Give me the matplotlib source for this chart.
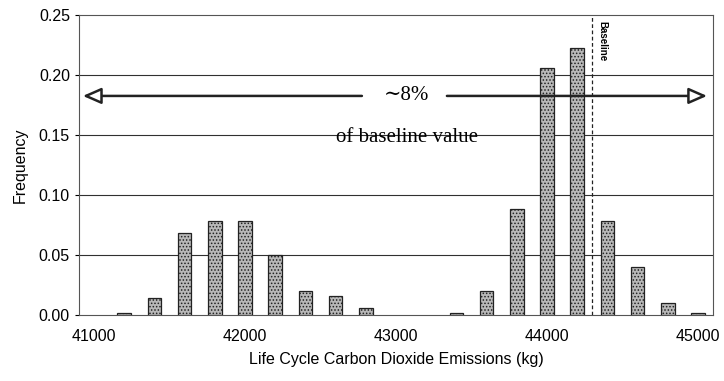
import matplotlib
matplotlib.use("Agg")
import matplotlib.pyplot as plt
import numpy as np

# bin centres (kg) and frequency
bins = [41200, 41400, 41600, 41800, 42000, 42200, 42400, 42600, 42800,
        43400, 43600, 43800, 44000, 44200, 44400, 44600, 44800, 45000]
freq = [0.002, 0.014, 0.068, 0.078, 0.078, 0.050, 0.020, 0.016, 0.006,
        0.002, 0.020, 0.088, 0.206, 0.222, 0.078, 0.040, 0.010, 0.002]
xticks = [41000, 42000, 43000, 44000, 45000]
yticks = [0.00, 0.05, 0.10, 0.15, 0.20, 0.25]
baseline = 44300

plt.rcParams['font.family'] = ['Liberation Sans', 'DejaVu Sans']
plt.rcParams['hatch.color'] = '#5a5a5a'
plt.rcParams['hatch.linewidth'] = 0.7

fig = plt.figure(figsize=(7.24, 3.81), dpi=100)
ax = fig.add_axes([0.109, 0.173, 0.876, 0.788])

ax.bar(bins, freq, width=90, color='#b8b8b8', edgecolor='#222222',
       linewidth=0.9, hatch='.....', zorder=3)

for y in yticks[1:-1]:
    ax.axhline(y, color='#303030', lw=0.8, zorder=1)

ax.axvline(baseline, color='#222222', lw=0.9, ls=(0, (3, 2)), zorder=4)
ax.text(baseline + 35, 0.245, 'Baseline', rotation=270, fontsize=7,
        ha='left', va='top', fontweight='bold')

# double-headed arrow with the label sitting in the gap
arr = dict(arrowstyle='-|>,head_length=0.8,head_width=0.35',
           edgecolor='#222222', facecolor='white', lw=1.8,
           mutation_scale=14, shrinkA=0, shrinkB=0)
ax.annotate('', xy=(40926, 0.1825), xytext=(42774, 0.1825), arrowprops=arr)
ax.annotate('', xy=(45060, 0.1825), xytext=(43337, 0.1825), arrowprops=arr)
serif = ['Liberation Serif', 'DejaVu Serif']
ax.text(43070, 0.1825, '\u223c8%', family=serif, fontsize=15,
        ha='center', va='center')
ax.text(43070, 0.148, 'of baseline value', family=serif,
        fontsize=15, ha='center', va='center')

ax.set_xlim(40900, 45100)
ax.set_ylim(0, 0.25)
ax.set_xticks(xticks)
ax.set_xticklabels([str(v) for v in xticks])
ax.set_yticks(yticks)
ax.set_yticklabels(['%.2f' % v for v in yticks])
ax.tick_params(axis='x', length=0, pad=10, labelsize=11.5)
ax.tick_params(axis='y', length=3, width=0.8, labelsize=11.5)
for s in ax.spines.values():
    s.set_color('#555555')
    s.set_linewidth(0.8)

ax.set_xlabel('Life Cycle Carbon Dioxide Emissions (kg)', fontsize=11.5,
              labelpad=6)
ax.set_ylabel('Frequency', fontsize=11.5, labelpad=8)

fig.savefig('out.png', dpi=100)
